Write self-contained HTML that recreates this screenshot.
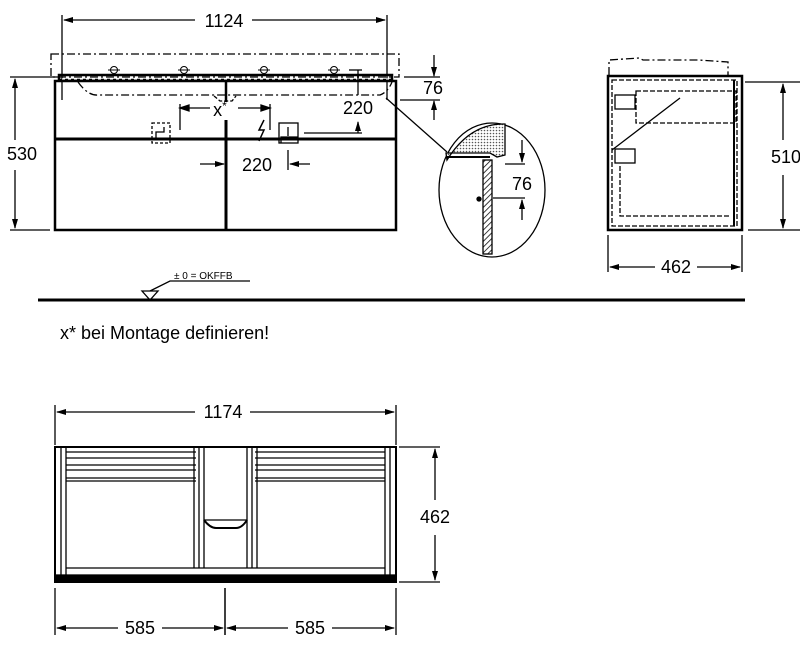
<!DOCTYPE html>
<html><head><meta charset="utf-8"><style>
html,body{margin:0;padding:0;background:#fff;}
svg{display:block;font-family:"Liberation Sans",Arial,sans-serif;}
</style></head><body>
<svg width="800" height="664" viewBox="0 0 800 664" xmlns="http://www.w3.org/2000/svg">
<defs>
<marker id="a" markerWidth="10" markerHeight="6" refX="9" refY="3" orient="auto" markerUnits="userSpaceOnUse"><path d="M0,0 L10,3 L0,6 z" fill="#000"/></marker>
<pattern id="dots" width="3" height="3" patternUnits="userSpaceOnUse"><rect width="3" height="3" fill="#fff"/><circle cx="1.5" cy="1.5" r="0.8" fill="#555"/></pattern>
<pattern id="hatch" width="4" height="4" patternUnits="userSpaceOnUse" patternTransform="rotate(45)"><line x1="0" y1="0" x2="0" y2="4" stroke="#000" stroke-width="1.5"/></pattern>
</defs>
<g stroke="#000" fill="none" stroke-width="1.3">
<!-- Front view -->
<line x1="62" y1="15" x2="62" y2="100"/><line x1="387" y1="15" x2="387" y2="100"/>
<line x1="195" y1="20" x2="64" y2="20" marker-end="url(#a)"/>
<line x1="252" y1="20" x2="385" y2="20" marker-end="url(#a)"/>
<rect x="51" y="54" width="348" height="23" stroke-dasharray="8,3,2,3"/>
<rect x="59" y="75" width="333" height="5" stroke-width="2.5"/>
<line x1="62" y1="79" x2="390" y2="79" stroke="#fff" stroke-dasharray="3,3"/>
<path d="M78,82 Q88,96 98,95 L380,95 Q388,92 392,82" stroke-dasharray="8,3,2,3"/>
<rect x="55" y="81" width="341" height="149" stroke-width="2.5"/>
<line x1="55" y1="139" x2="396" y2="139" stroke-width="3"/>
<line x1="226" y1="80" x2="226" y2="102" stroke-width="2.5"/>
<line x1="226" y1="120" x2="226" y2="230" stroke-width="3"/>
<path d="M214,96 L220,101 L232,101 L236,96" stroke-dasharray="4,2"/>
<g stroke-width="1">
<circle cx="114" cy="70" r="3.5"/><circle cx="184" cy="70" r="3.5"/><circle cx="264" cy="70" r="3.5"/><circle cx="334" cy="70" r="3.5"/>
<line x1="108" y1="70" x2="120" y2="70"/><line x1="178" y1="70" x2="190" y2="70"/><line x1="258" y1="70" x2="270" y2="70"/><line x1="328" y1="70" x2="340" y2="70"/>
</g>
<line x1="349" y1="70" x2="362" y2="70"/><line x1="358" y1="70" x2="358" y2="95"/>
<line x1="404" y1="77" x2="440" y2="77"/><line x1="400" y1="100" x2="440" y2="100"/>
<line x1="434" y1="55" x2="434" y2="76" marker-end="url(#a)"/><line x1="434" y1="120" x2="434" y2="101" marker-end="url(#a)"/>
<line x1="304" y1="133" x2="362" y2="133"/><line x1="358" y1="133" x2="358" y2="122" marker-end="url(#a)"/>
<line x1="180" y1="104" x2="180" y2="130"/><line x1="270" y1="104" x2="270" y2="130"/>
<path d="M180,108 l9,-3 v6 z" fill="#000"/><path d="M270,108 l-9,-3 v6 z" fill="#000"/>
<line x1="180" y1="108" x2="210" y2="108"/><line x1="238" y1="108" x2="270" y2="108"/>
<rect x="152" y="123" width="18" height="20" stroke-dasharray="3,2"/>
<path d="M156,138 v-6 h8 v-5"/>
<rect x="279" y="123" width="19" height="20"/><path d="M283,137 h10 M288,127 v9 M281,143 v-6 h17"/>
<path d="M264,120 l-5,10 h5 l-5,11" stroke-width="1.5"/>
<line x1="200" y1="164" x2="224" y2="164" marker-end="url(#a)"/>
<line x1="288" y1="150" x2="288" y2="170"/><line x1="310" y1="164" x2="290" y2="164" marker-end="url(#a)"/>
<line x1="10" y1="77" x2="58" y2="77"/><line x1="10" y1="230" x2="50" y2="230"/>
<line x1="15" y1="140" x2="15" y2="79" marker-end="url(#a)"/><line x1="15" y1="170" x2="15" y2="228" marker-end="url(#a)"/>
<line x1="386" y1="98" x2="447" y2="152"/>
<!-- detail circle -->
<ellipse cx="492" cy="190" rx="53" ry="67"/>
<path d="M447,160 Q470,123 505,124 L505,155 L497,157 L490,153 L446,153 Z" fill="url(#dots)" stroke="#000"/>
<line x1="446" y1="157" x2="490" y2="157" stroke-width="2"/>
<rect x="483" y="160" width="9" height="94" fill="url(#hatch)"/>
<line x1="505" y1="164" x2="525" y2="164"/><line x1="493" y1="198" x2="525" y2="198"/>
<line x1="522" y1="140" x2="522" y2="162" marker-end="url(#a)"/><line x1="522" y1="220" x2="522" y2="200" marker-end="url(#a)"/>
<circle cx="479" cy="199" r="2" fill="#000"/>
<!-- side view -->
<path d="M609,75 v-15 l30,-2 l4,2 h55 l30,2 v15" stroke-dasharray="8,3,2,3"/>
<rect x="608" y="76" width="134" height="154" stroke-width="2.5"/>
<rect x="612" y="80" width="125" height="146" stroke-dasharray="5,2"/>
<rect x="636" y="91" width="100" height="32" stroke-dasharray="5,2"/>
<line x1="612" y1="150" x2="680" y2="98"/>
<rect x="615" y="95" width="20" height="14"/><rect x="615" y="149" width="20" height="14"/>
<path d="M620,166 v50 h110" stroke-dasharray="5,2"/>
<line x1="734" y1="80" x2="734" y2="226" stroke-width="2"/>
<line x1="745" y1="82" x2="800" y2="82"/><line x1="748" y1="230" x2="800" y2="230"/>
<line x1="783" y1="140" x2="783" y2="84" marker-end="url(#a)"/><line x1="783" y1="175" x2="783" y2="228" marker-end="url(#a)"/>
<line x1="608" y1="235" x2="608" y2="272"/><line x1="742" y1="235" x2="742" y2="272"/>
<line x1="655" y1="267" x2="610" y2="267" marker-end="url(#a)"/><line x1="697" y1="267" x2="740" y2="267" marker-end="url(#a)"/>
<!-- floor -->
<line x1="38" y1="300" x2="745" y2="300" stroke-width="3"/>
<path d="M142,291 L158,291 L150,300 Z"/>
<path d="M150,291 L170,281 H250" />
<!-- bottom view -->
<line x1="55" y1="405" x2="55" y2="445"/><line x1="396" y1="405" x2="396" y2="445"/>
<line x1="195" y1="412" x2="57" y2="412" marker-end="url(#a)"/><line x1="250" y1="412" x2="394" y2="412" marker-end="url(#a)"/>
<rect x="55" y="447" width="341" height="135" stroke-width="2"/>
<rect x="55" y="575" width="341" height="7" fill="#000"/>
<line x1="61" y1="448" x2="61" y2="575"/><line x1="66" y1="448" x2="66" y2="575"/>
<line x1="390" y1="448" x2="390" y2="575"/><line x1="385" y1="448" x2="385" y2="575"/>
<line x1="66" y1="452" x2="196" y2="452"/><line x1="66" y1="458" x2="196" y2="458"/><line x1="66" y1="465" x2="196" y2="465"/><line x1="66" y1="470" x2="196" y2="470"/><line x1="66" y1="478" x2="196" y2="478"/><line x1="66" y1="481" x2="196" y2="481"/>
<line x1="255" y1="452" x2="385" y2="452"/><line x1="255" y1="458" x2="385" y2="458"/><line x1="255" y1="465" x2="385" y2="465"/><line x1="255" y1="470" x2="385" y2="470"/><line x1="255" y1="478" x2="385" y2="478"/><line x1="255" y1="481" x2="385" y2="481"/>
<line x1="66" y1="568" x2="385" y2="568"/>
<line x1="194" y1="448" x2="194" y2="568"/><line x1="199" y1="448" x2="199" y2="568"/><line x1="204" y1="448" x2="204" y2="568"/>
<line x1="247" y1="448" x2="247" y2="568"/><line x1="252" y1="448" x2="252" y2="568"/><line x1="257" y1="448" x2="257" y2="568"/>
<path d="M204,520 Q210,528 216,528 H236 Q242,528 247,520" stroke-width="2"/>
<line x1="204" y1="520" x2="247" y2="520"/>
<line x1="399" y1="447" x2="440" y2="447"/><line x1="399" y1="582" x2="440" y2="582"/>
<line x1="435" y1="500" x2="435" y2="449" marker-end="url(#a)"/><line x1="435" y1="535" x2="435" y2="580" marker-end="url(#a)"/>
<line x1="55" y1="588" x2="55" y2="635"/><line x1="396" y1="588" x2="396" y2="635"/><line x1="225" y1="588" x2="225" y2="635" stroke-width="1.5"/>
<line x1="118" y1="628" x2="57" y2="628" marker-end="url(#a)"/><line x1="162" y1="628" x2="223" y2="628" marker-end="url(#a)"/>
<line x1="288" y1="628" x2="227" y2="628" marker-end="url(#a)"/><line x1="332" y1="628" x2="394" y2="628" marker-end="url(#a)"/>
</g>
<g fill="#000" font-size="18">
<text x="224" y="27" text-anchor="middle">1124</text>
<text x="22" y="160" text-anchor="middle">530</text>
<text x="433" y="94" text-anchor="middle">76</text>
<text x="358" y="114" text-anchor="middle">220</text>
<text x="220" y="116" text-anchor="middle">x<tspan font-size="12" dy="-6">*</tspan></text>
<text x="257" y="171" text-anchor="middle">220</text>
<text x="522" y="190" text-anchor="middle">76</text>
<text x="786" y="163" text-anchor="middle">510</text>
<text x="676" y="273" text-anchor="middle">462</text>
<text x="60" y="339">x* bei Montage definieren!</text>
<text x="223" y="418" text-anchor="middle">1174</text>
<text x="435" y="523" text-anchor="middle">462</text>
<text x="140" y="634" text-anchor="middle">585</text>
<text x="310" y="634" text-anchor="middle">585</text>
<text x="174" y="279" font-size="10">± 0 = OKFFB</text>
</g>
</svg>
</body></html>
